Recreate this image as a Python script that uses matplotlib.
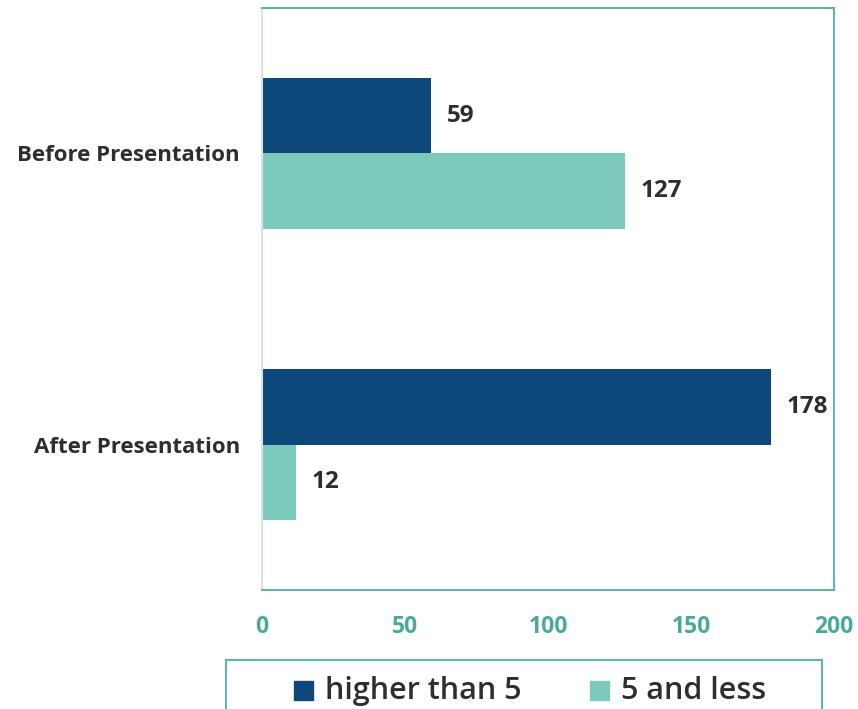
import matplotlib
matplotlib.use("Agg")
import matplotlib.pyplot as plt
from matplotlib.patches import Rectangle
import numpy as np

plt.rcParams["font.family"] = ["Open Sans", "DejaVu Sans"]

categories = ["After Presentation", "Before Presentation"]
series_names = ["higher than 5", "5 and less"]
higher_than_5 = [178, 59]
five_and_less = [12, 127]
xticks = [0, 50, 100, 150, 200]

DARK = "#0e477a"
TEAL = "#7ccabd"
TICK = "#4aaa98"
TEXT = "#2e2e2e"

fig = plt.figure(figsize=(8.58, 7.09), dpi=100)
ax = fig.add_axes([0.3054, 0.1678, 0.6667, 0.821])

y = np.arange(len(categories))
h = 0.258
ax.barh(y + h / 2, higher_than_5, height=h, color=DARK, label=series_names[0])
ax.barh(y - h / 2, five_and_less, height=h, color=TEAL, label=series_names[1])

for yi, v in zip(y + h / 2, higher_than_5):
    ax.text(v + 5.5, yi, str(v), va="center", ha="left", fontsize=17.5,
            fontweight="bold", color=TEXT)
for yi, v in zip(y - h / 2, five_and_less):
    ax.text(v + 5.5, yi, str(v), va="center", ha="left", fontsize=17.5,
            fontweight="bold", color=TEXT)

ax.set_xlim(0, 200)
ax.set_ylim(-0.5, 1.5)
ax.set_yticks(y)
ax.set_yticklabels(categories, fontsize=16, fontweight="bold", color=TEXT)
ax.set_xticks(xticks)
ax.set_xticklabels([str(t) for t in xticks], fontsize=16.5, fontweight="bold",
                   color=TICK)
ax.tick_params(length=0)
ax.tick_params(axis="x", pad=18)
ax.tick_params(axis="y", pad=16)

for side in ["top", "right", "bottom"]:
    ax.spines[side].set_color("#5fb8a6")
    ax.spines[side].set_linewidth(1.5)
ax.spines["left"].set_color("#d5e6e2")
ax.spines["left"].set_linewidth(1.5)

# framed legend box running off the bottom edge
box = Rectangle((226 / 858, -0.05), (822 - 226) / 858, (709 - 660) / 709 + 0.05,
                transform=fig.transFigure, fill=False, edgecolor="#5fb8a6",
                linewidth=1.5, clip_on=False)
fig.add_artist(box)

legend_items = [(294, DARK, series_names[0]), (590, TEAL, series_names[1])]
for xpx, col, name in legend_items:
    fig.add_artist(Rectangle((xpx / 858, 1 - 700 / 709), 19 / 858, 19 / 709,
                             transform=fig.transFigure, color=col))
    fig.text((xpx + 31) / 858, 1 - 699 / 709, name, fontsize=22, color=TEXT,
             va="baseline", ha="left", fontweight="semibold")

fig.savefig("out.png", dpi=100)
